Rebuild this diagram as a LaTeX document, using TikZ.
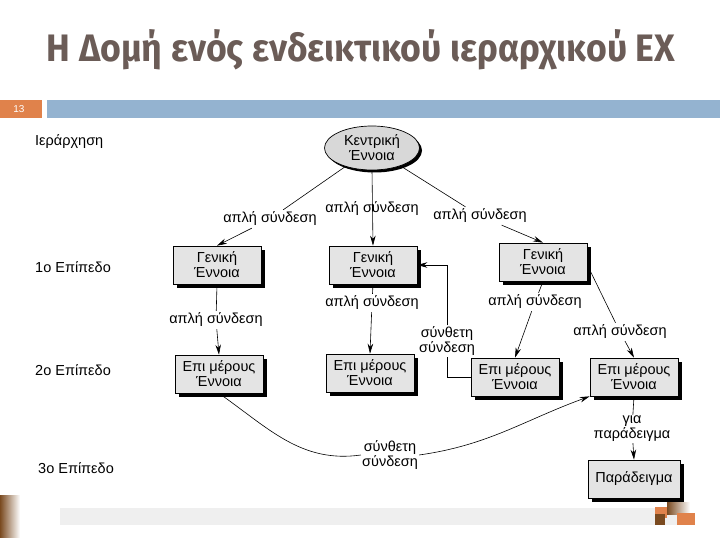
\documentclass[tikz,border=0pt]{standalone}
\usepackage{fontspec}
\setmainfont{Liberation Sans}
\newfontfamily\titlefont{Fira Sans}
\usetikzlibrary{shadows,arrows.meta,shapes.geometric}
\definecolor{titlecol}{RGB}{107,92,87}
\definecolor{orangebar}{RGB}{224,130,75}
\definecolor{bluebar}{RGB}{148,179,208}
\definecolor{boxfill}{RGB}{228,228,228}
\definecolor{ellfill}{RGB}{216,216,216}
\definecolor{greybar}{RGB}{239,239,239}
\definecolor{browndeco}{RGB}{122,74,32}
\tikzset{
  concept/.style={draw=black, fill=boxfill, line width=0.7pt, minimum width=88pt, minimum height=38pt,
    align=center, font=\fontsize{14.5}{15}\selectfont, inner sep=2pt,
    drop shadow={shadow xshift=3.5pt, shadow yshift=-3.5pt, opacity=1, fill=black}},
  central/.style={ellipse, draw=black, fill=ellfill, line width=0.7pt, minimum width=95pt, minimum height=44pt,
    align=center, font=\fontsize{14.5}{15}\selectfont, inner sep=0pt,
    drop shadow={shadow xshift=2.5pt, shadow yshift=-2.5pt, opacity=1, fill=black}},
  linklabel/.style={align=center, font=\fontsize{14.5}{15}\selectfont, inner sep=2pt},
  levellabel/.style={anchor=west, font=\fontsize{14.5}{15}\selectfont, inner sep=0pt},
  conn/.style={line width=0.6pt, draw=black},
  arr/.style={conn, -{Stealth[length=10pt,width=5.5pt]}}
}
\begin{document}
\begin{tikzpicture}[x=1pt,y=-1pt]
\path[use as bounding box, fill=white] (0,0) rectangle (720,540);
% title
\node[text=titlecol, inner sep=0pt] (title) at (361,50)
  {\resizebox{628pt}{32pt}{\titlefont\bfseries Η Δομή ενός ενδεικτικού ιεραρχικού ΕΧ}};
% header bars
\fill[orangebar] (0,100) rectangle (42,118);
\node[text=white, font=\fontsize{10}{10}\selectfont, inner sep=0pt] (num) at (19,109) {13};
\fill[bluebar] (47,100) rectangle (720,118);
% footer decorations
\shade[left color=browndeco, right color=white] (0,495) rectangle (20,537);
\fill[greybar] (60,508) rectangle (690,525);
\shade[left color=browndeco, right color=white] (667,502) rectangle (690,514);
\fill[orangebar] (655,507) rectangle (667,518);
\fill[browndeco] (655,514) rectangle (665,525);
\fill[orangebar] (677,513) rectangle (695,525);
% level labels
\node[levellabel] (lvl0) at (35,142) {Ιεράρχηση};
\node[levellabel] (lvl1) at (35,267) {1ο Επίπεδο};
\node[levellabel] (lvl2) at (35,370) {2ο Επίπεδο};
\node[levellabel] (lvl3) at (38,468) {3ο Επίπεδο};
% nodes
\node[central] (ell) at (372,148) {Κεντρική\\Έννοια};
\node[concept] (G1) at (217,265) {Γενική\\Έννοια};
\node[concept] (G2) at (373,265) {Γενική\\Έννοια};
\node[concept] (G3) at (543,262) {Γενική\\Έννοια};
\node[concept] (E1) at (219,374) {Επι μέρους\\Έννοια};
\node[concept] (E2) at (370,373) {Επι μέρους\\Έννοια};
\node[concept] (E3) at (515,377) {Επι μέρους\\Έννοια};
\node[concept] (E4) at (634,377) {Επι μέρους\\Έννοια};
\node[concept, minimum width=92pt] (P) at (634,479) {Παράδειγμα};
% link labels
\node[linklabel] (l1) at (270,219) {απλή σύνδεση};
\node[linklabel] (l2) at (372,209) {απλή σύνδεση};
\node[linklabel] (l3) at (480,216) {απλή σύνδεση};
\node[linklabel] (l4) at (216,320) {απλή σύνδεση};
\node[linklabel] (l5) at (372,303) {απλή σύνδεση};
\node[linklabel] (l6) at (535,302) {απλή σύνδεση};
\node[linklabel] (l7) at (620,332) {απλή σύνδεση};
\node[linklabel, inner sep=1pt] (l8) at (447,341) {σύνθετη\\σύνδεση};
\node[linklabel, inner sep=1pt] (l9) at (390,455) {σύνθετη\\σύνδεση};
\node[linklabel, inner sep=1pt] (l10) at (632,429) {για\\παράδειγμα};
% connectors
\draw[conn] (ell) -- (l1);
\draw[arr] (l1) -- (G1.north);
\draw[arr] (ell.south) -- (G2.north);
\draw[conn] (ell) -- (l3);
\draw[arr] (l3) -- (G3.north);
\draw[conn] (G1.south) -- (l4);
\draw[arr] (l4) -- (E1.north);
\draw[conn] (G2.south) -- (l5);
\draw[arr] (l5) -- (E2.north);
\draw[conn] (G3.south) -- (l6);
\draw[arr] (l6) -- (E3.north);
\draw[conn] (G3.east) ++(0,3) -- (l7);
\draw[arr] (l7) -- (E4.north);
\draw[conn] (E3.west) -| (l8.south);
\draw[arr] (l8.north) |- (G2.east);
\draw[conn] (E1.south) to[out=-35,in=188] (l9.west);
\draw[arr] (l9.east) to[out=8,in=200] (E4.south west);
\draw[conn] (E4.south) -- (l10);
\draw[arr] (l10) -- (P.north);
\end{tikzpicture}
\end{document}
